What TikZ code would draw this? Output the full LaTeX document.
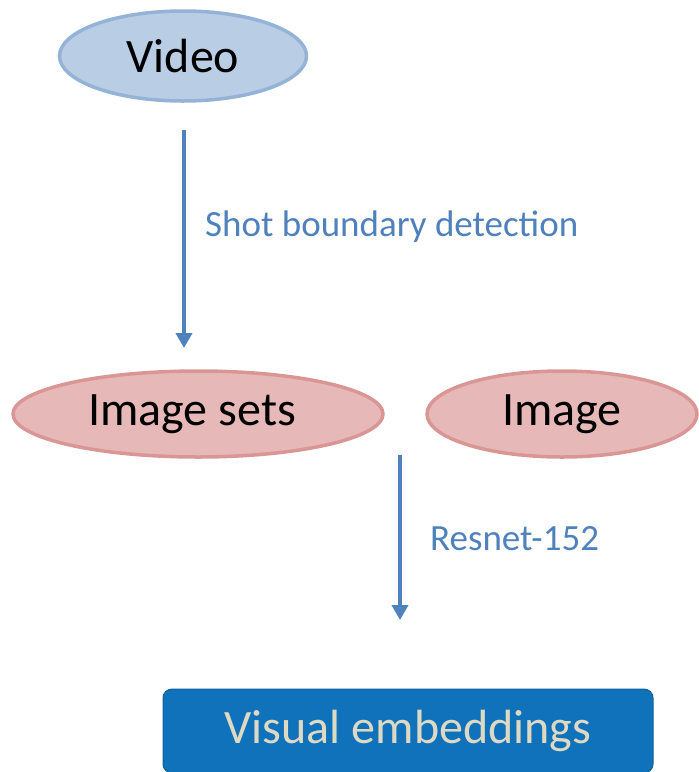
\documentclass[tikz,border=0pt]{standalone}
\usepackage{fontspec}
\setmainfont{Carlito}
\usetikzlibrary{shapes.geometric,arrows.meta}
\definecolor{vidfill}{HTML}{B9CDE5}
\definecolor{viddraw}{HTML}{95B3D7}
\definecolor{imgfill}{HTML}{E6B9B8}
\definecolor{imgdraw}{HTML}{D99694}
\definecolor{arrowblue}{HTML}{4F81BD}
\definecolor{boxblue}{HTML}{1072BA}
\definecolor{boxtext}{HTML}{DDD9C3}
\tikzset{
  ell/.style={ellipse, line width=3.5pt, inner sep=0pt, font=\fontsize{48}{52}\selectfont},
  videll/.style={ell, fill=vidfill, draw=viddraw},
  imgell/.style={ell, fill=imgfill, draw=imgdraw},
  flow/.style={draw=arrowblue, line width=4.5pt, -{Triangle[width=16pt,length=15pt]}},
  lbl/.style={text=arrowblue, anchor=base west, inner sep=0pt, font=\fontsize{37}{40}\selectfont},
  embbox/.style={fill=boxblue, draw=boxblue!85!black, line width=1pt, rounded corners=9pt, text=boxtext, font=\fontsize{48}{52}\selectfont}
}
\begin{document}
\begin{tikzpicture}[x=1pt,y=-1pt]
\useasboundingbox (0,0) rectangle (699,772);
\node[videll, minimum width=247pt, minimum height=90pt] (video) at (183,56) {Video};
\node[imgell, minimum width=370pt, minimum height=86pt] (imgsets) at (198,414) {Image sets\hspace*{12pt}};
\node[imgell, minimum width=270pt, minimum height=86pt] (image) at (562,414) {Image};
\node[embbox, minimum width=490pt, minimum height=84pt] (emb) at (408,731) {Visual embeddings};
\coordinate (a1s) at (184,130);
\coordinate (a1e) at (184,348);
\coordinate (a2s) at (400,455);
\coordinate (a2e) at (400,620);
\draw[flow] (a1s) -- (a1e);
\draw[flow] (a2s) -- (a2e);
\node[lbl] (l1) at (205,236) {Shot boundary detection};
\node[lbl] (l2) at (430,550) {Resnet-152};
\end{tikzpicture}
\end{document}
